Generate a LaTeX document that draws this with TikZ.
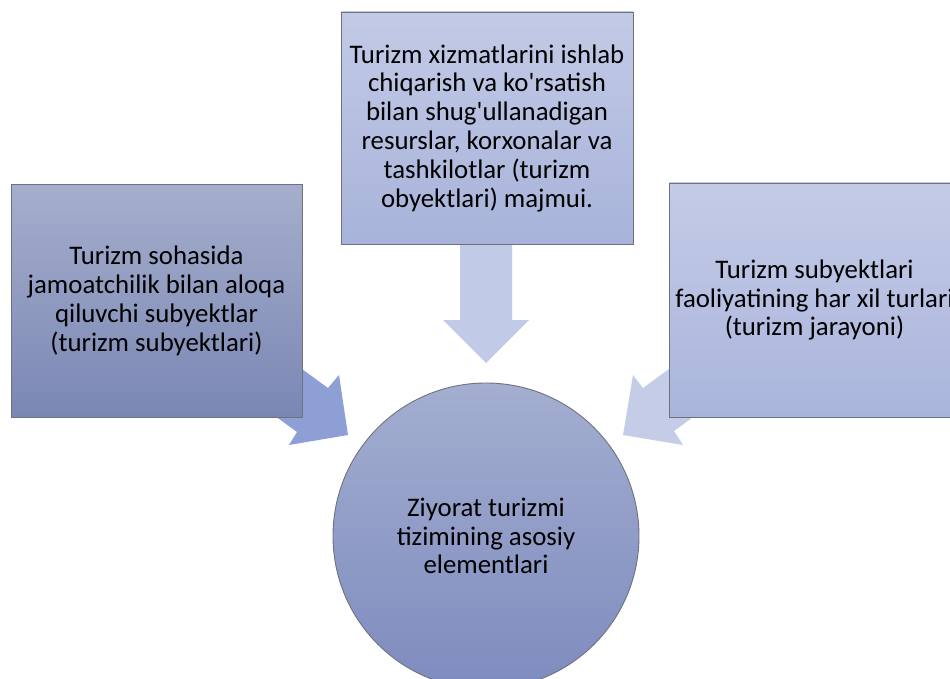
\documentclass[tikz,border=0pt]{standalone}
\usepackage{fontspec}
\setmainfont{Carlito}[Ligatures=TeXOff]
\definecolor{lbtop}{HTML}{A5AECC}
\definecolor{lbbot}{HTML}{7A87B4}
\definecolor{tbtop}{HTML}{C2CAE6}
\definecolor{tbbot}{HTML}{A8B3DA}
\definecolor{rbtop}{HTML}{C4CBE7}
\definecolor{rbbot}{HTML}{AAB5DC}
\definecolor{cctop}{HTML}{A3AED0}
\definecolor{ccbot}{HTML}{7E8BBE}
\definecolor{arrL}{HTML}{8D9FD5}
\definecolor{arrD}{HTML}{C1CAE6}
\definecolor{arrR}{HTML}{C4CCE8}
\definecolor{edge}{HTML}{6E727E}
\tikzset{
  box/.style={rectangle, draw=edge, line width=0.9pt, inner sep=0pt, outer sep=0pt,
    minimum width=291pt, minimum height=233pt, align=center,
    font=\fontsize{26.8}{28.8}\selectfont},
}
\begin{document}
\begin{tikzpicture}[x=1pt,y=-1pt]
\useasboundingbox (0,0) rectangle (950,679);
\clip (0,0) rectangle (950,679);
% block arrows (behind)
\fill[arrD] (460,230) -- (512,230) -- (512,320) -- (529,320) -- (486,363) -- (443,320) -- (460,320) -- cycle;
\fill[arrL] (280,353) -- (328,388) -- (339,375) -- (348,435) -- (289,445) -- (297,432) -- (249,397) -- cycle;
\fill[arrR] (691,353) -- (643,388) -- (633,375) -- (623,435) -- (683,445) -- (674,431) -- (722,396) -- cycle;
% boxes
\node[box, top color=lbtop, bottom color=lbbot] (left) at (156.5,301)
  {Turizm sohasida\\ jamoatchilik bilan aloqa\\ qiluvchi subyektlar\\ (turizm subyektlari)};
\node[box, top color=tbtop, bottom color=tbbot, minimum width=292pt, minimum height=232pt] (top) at (487,128)
  {Turizm xizmatlarini ishlab\\ chiqarish va ko'rsatish\\ bilan shug'ullanadigan\\ resurslar, korxonalar va\\ tashkilotlar (turizm\\ obyektlari) majmui.};
\node[box, top color=rbtop, bottom color=rbbot, minimum height=234pt] (right) at (814.5,300)
  {Turizm subyektlari\\ faoliyatining har xil turlari\\ (turizm jarayoni)};
% circle
\node[circle, draw=edge, line width=0.9pt, minimum size=306pt, inner sep=0pt,
  top color=cctop, bottom color=ccbot, align=center,
  font=\fontsize{26.8}{28.8}\selectfont] (centre) at (486,536)
  {Ziyorat turizmi\\ tizimining asosiy\\ elementlari};
\end{tikzpicture}
\end{document}
